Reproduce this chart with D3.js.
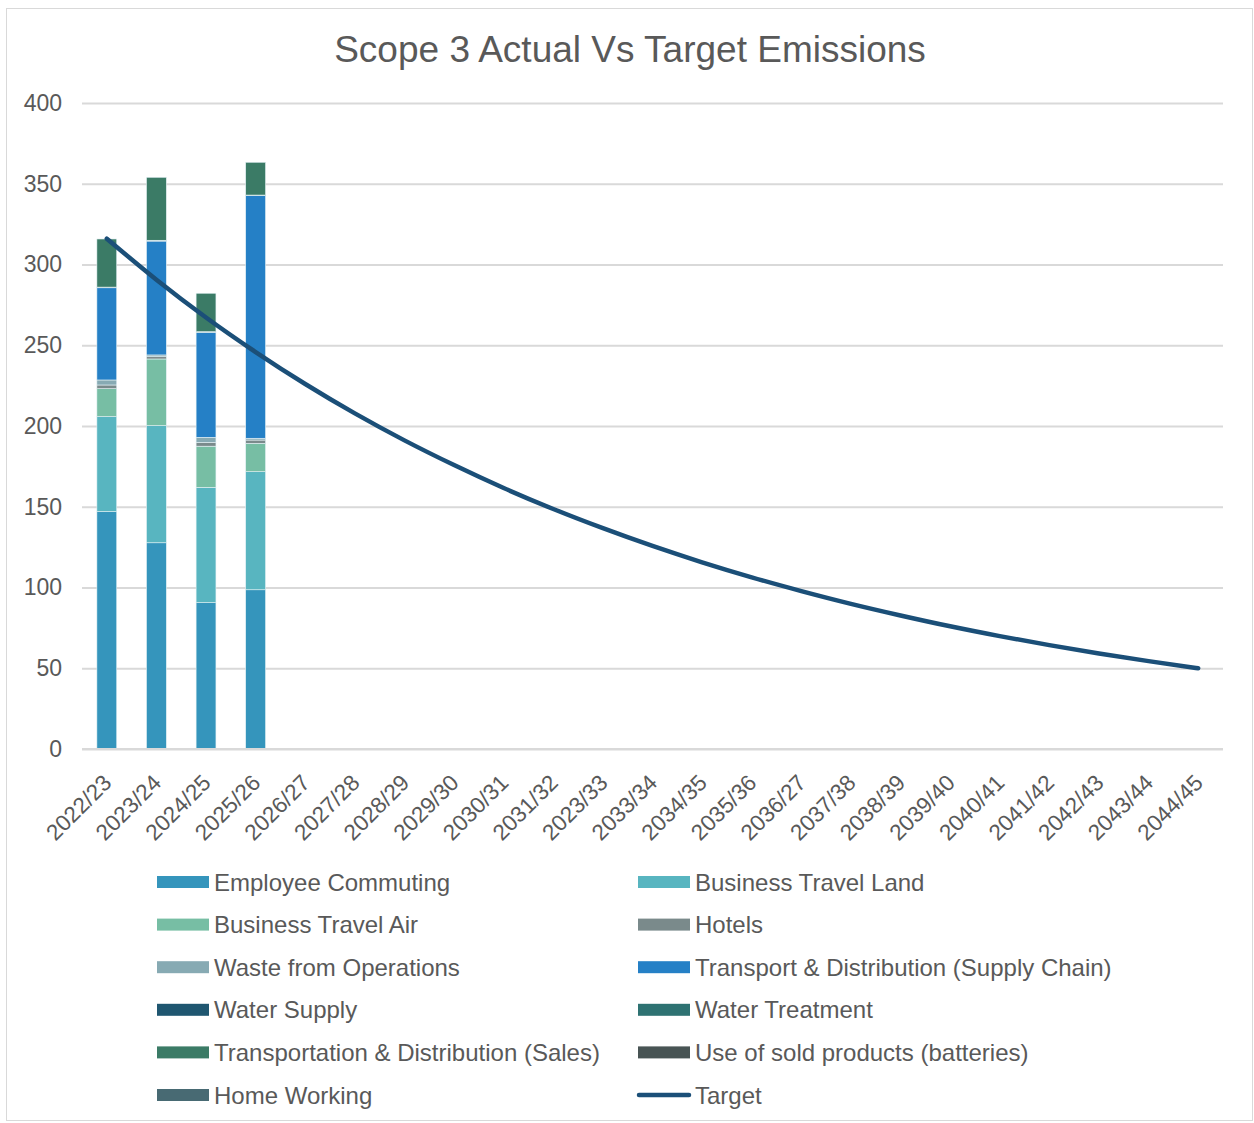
<!DOCTYPE html>
<html>
<head>
<meta charset="utf-8">
<script src="https://cdn.jsdelivr.net/npm/d3@7"></script>
<style>
  body { margin: 0; background: #fff; }
  text { font-family: "Liberation Sans", Arial, sans-serif; fill: #595959; }
</style>
</head>
<body>
<script>
// categories (typos kept as in the source chart)
var years = ["2022/23","2023/24","2024/25","2025/26","2026/27","2027/28","2028/29","2029/30",
  "2030/31","2031/32","2023/33","2033/34","2034/35","2035/36","2036/27","2037/38","2038/39",
  "2039/40","2040/41","2041/42","2042/43","2043/44","2044/45"];

var seriesNames = ["Employee Commuting","Business Travel Land","Business Travel Air","Hotels",
  "Waste from Operations","Transport & Distribution (Supply Chain)","Water Supply","Water Treatment",
  "Transportation & Distribution (Sales)","Use of sold products (batteries)","Home Working"];

var seriesColors = ["#3595bc","#58b5c0","#77bea4","#7a8a8b","#87aab3","#2580c6","#1f5670",
  "#2e7272","#3b7b66","#485454","#486a73"];

// actual values for the first four years, one array per series
var employeeCommuting = [147.0, 127.7, 90.6, 98.6];
var businessTravelLand = [58.8, 72.5, 71.4, 73.1];
var businessTravelAir = [17.3, 41.3, 25.5, 17.6];
var hotels = [2.3, 1.4, 2.3, 2.0];
var wasteFromOperations = [3.1, 1.1, 3.2, 1.1];
var transportSupplyChain = [57.1, 70.5, 65.0, 150.2];
var waterSupply = [0.2, 0.2, 0.2, 0.2];
var waterTreatment = [0.2, 0.3, 0.2, 0.2];
var transportSales = [29.8, 39.0, 23.8, 20.3];
var useOfSoldProducts = [0, 0, 0, 0];
var homeWorking = [0, 0, 0, 0];

var seriesValues = [employeeCommuting, businessTravelLand, businessTravelAir, hotels,
  wasteFromOperations, transportSupplyChain, waterSupply, waterTreatment, transportSales,
  useOfSoldProducts, homeWorking];

var target = [316.0, 290.6, 267.2, 245.8, 226.0, 207.8, 191.1, 175.8, 161.6, 148.6, 136.7,
  125.7, 115.6, 106.3, 97.8, 89.9, 82.7, 76.0, 69.9, 64.3, 59.1, 54.4, 50.0];

var yTicks = [0, 50, 100, 150, 200, 250, 300, 350, 400];

var W = 1254, H = 1123;
var plot = { left: 82, right: 1223, top: 103, bottom: 749 };

var svg = d3.select("body").append("svg")
    .attr("width", W)
    .attr("height", H);

svg.append("rect")
    .attr("x", 6.5).attr("y", 8.5)
    .attr("width", 1246).attr("height", 1112)
    .attr("fill", "#fff")
    .attr("stroke", "#d9d9d9");

svg.append("text")
    .attr("x", 630)
    .attr("y", 62)
    .attr("text-anchor", "middle")
    .style("font-size", "37px")
    .text("Scope 3 Actual Vs Target Emissions");

var x = d3.scaleBand()
    .domain(years)
    .range([plot.left, plot.right])
    .paddingInner(0.6)
    .paddingOuter(0.3);

var xc = function (d) { return x(d) + x.bandwidth() / 2; };

var y = d3.scaleLinear()
    .domain([0, 400])
    .range([plot.bottom, plot.top]);

// gridlines + y labels
var yAxis = d3.axisLeft(y)
    .tickValues(yTicks)
    .tickSize(-(plot.right - plot.left))
    .tickPadding(20);

var gY = svg.append("g")
    .attr("transform", "translate(" + plot.left + ",0)")
    .call(yAxis);
gY.select(".domain").remove();
gY.selectAll("line").attr("stroke", "#d9d9d9").attr("stroke-width", 2);
gY.selectAll("text").style("font-size", "23px").attr("fill", "#595959");

// stacked bars
var stackRows = years.slice(0, 4).map(function (yr, i) {
    var row = { year: yr };
    seriesNames.forEach(function (s, j) { row[s] = seriesValues[j][i]; });
    return row;
});

var stacked = d3.stack().keys(seriesNames)(stackRows);

svg.append("g").selectAll("g")
    .data(stacked)
    .enter().append("g")
        .attr("fill", function (d, i) { return seriesColors[i]; })
    .selectAll("rect")
    .data(function (d) { return d; })
    .enter().append("rect")
        .attr("x", function (d) { return x(d.data.year); })
        .attr("y", function (d) { return y(d[1]); })
        .attr("width", x.bandwidth())
        .attr("height", function (d) { return Math.max(0, y(d[0]) - y(d[1])); })
        .attr("stroke", "#e6f2f6")
        .attr("stroke-width", 0.6);

// x axis line
svg.append("line")
    .attr("x1", plot.left).attr("x2", plot.right)
    .attr("y1", plot.bottom).attr("y2", plot.bottom)
    .attr("stroke", "#d9d9d9")
    .attr("stroke-width", 2);

// x labels
svg.append("g").selectAll("text")
    .data(years)
    .enter().append("text")
        .attr("transform", function (d) {
            return "translate(" + (xc(d) - 5) + "," + (plot.bottom + 24) + ") rotate(-45)";
        })
        .attr("text-anchor", "end")
        .attr("dy", "0.7em")
        .style("font-size", "22.5px")
        .text(function (d) { return d; });

// target line
var line = d3.line()
    .x(function (d, i) { return xc(years[i]); })
    .y(function (d) { return y(d); })
    .curve(d3.curveMonotoneX);

svg.append("path")
    .datum(target)
    .attr("d", line)
    .attr("fill", "none")
    .attr("stroke", "#1b4f78")
    .attr("stroke-width", 4.5)
    .attr("stroke-linecap", "round");

// legend
var legendItems = seriesNames.concat(["Target"]);
var legendColors = seriesColors.concat(["#1b4f78"]);

var legend = svg.append("g");
legendItems.forEach(function (name, i) {
    var col = i % 2, row = Math.floor(i / 2);
    var lx = col === 0 ? 157 : 638;
    var ly = 882 + row * 42.6;
    var g = legend.append("g").attr("transform", "translate(" + lx + "," + ly + ")");
    if (name === "Target") {
        g.append("line")
            .attr("x1", 1).attr("x2", 51)
            .attr("y1", 0).attr("y2", 0)
            .attr("stroke", legendColors[i])
            .attr("stroke-width", 4.5)
            .attr("stroke-linecap", "round");
    } else {
        g.append("rect")
            .attr("x", 0).attr("y", -6)
            .attr("width", 52).attr("height", 12)
            .attr("fill", legendColors[i]);
    }
    g.append("text")
        .attr("x", 57)
        .attr("y", 0)
        .attr("dy", "0.36em")
        .style("font-size", "24px")
        .text(name);
});
</script>
</body>
</html>
